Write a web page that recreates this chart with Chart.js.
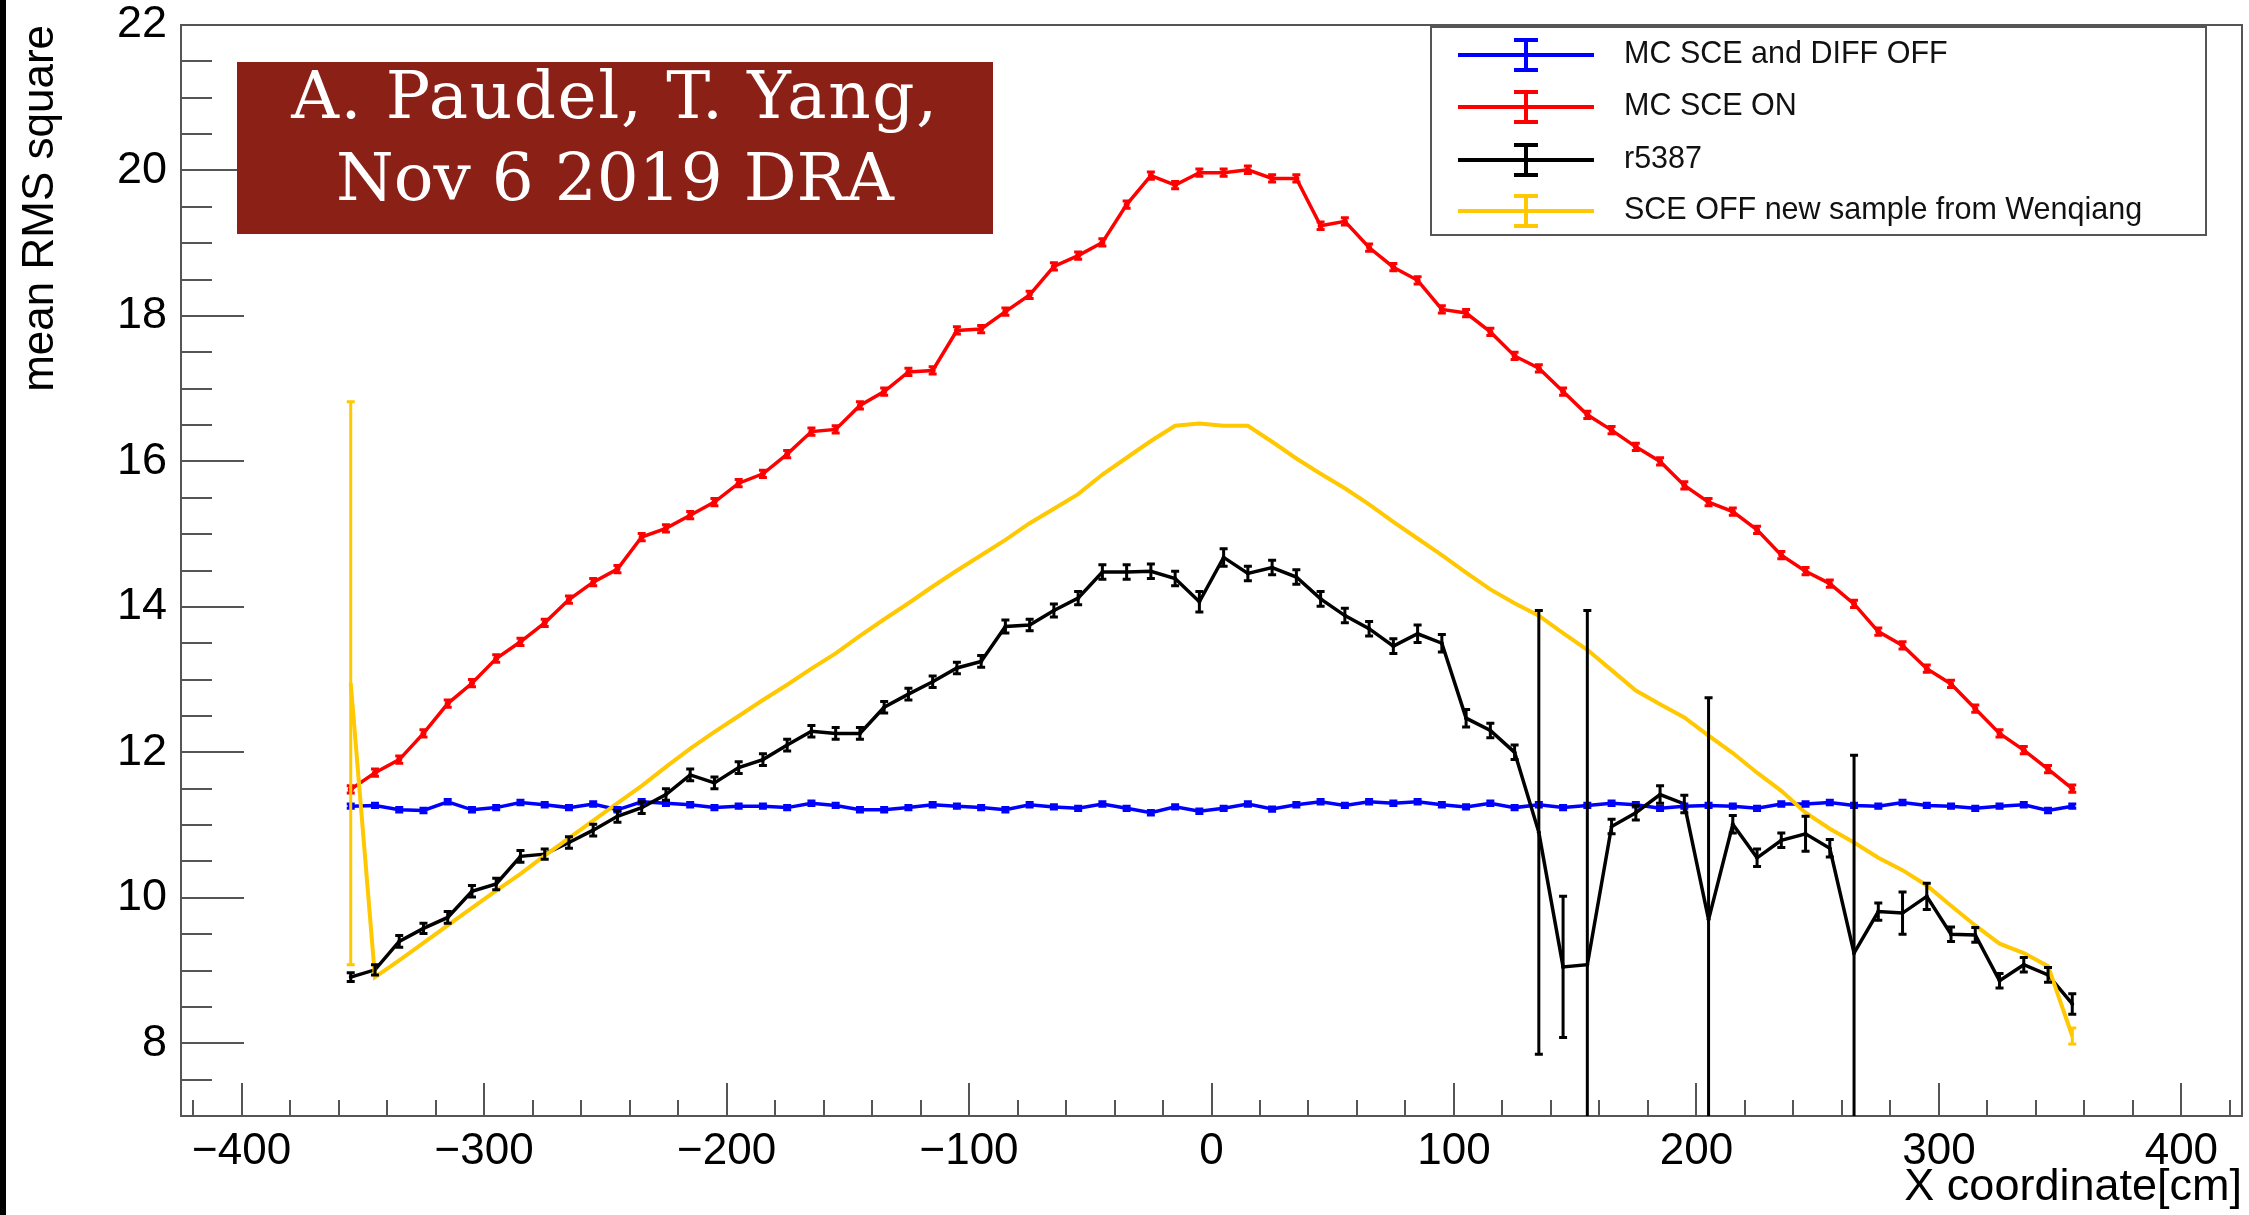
<!DOCTYPE html>
<html>
<head>
<meta charset="utf-8">
<script src="https://cdn.jsdelivr.net/npm/chart.js@4.4.1/dist/chart.umd.min.js"></script>
<style>
  html, body { margin: 0; padding: 0; background: #fff; }
  #wrap { position: relative; width: 2249px; height: 1215px; overflow: hidden; }
  #edge { position: absolute; left: 0; top: 0; width: 6px; height: 1215px; background: #000; }
  #stamp {
    position: absolute; left: 237px; top: 62px; width: 756px; height: 172px;
    background: #8a2016; color: #fff; text-align: center;
    font-family: "DejaVu Serif", serif; font-size: 66px; line-height: 82px;
  }
  #stamp div { position: relative; top: -7px; }
  #stamp span { letter-spacing: 1.6px; }
</style>
</head>
<body>
<div id="wrap">
  <canvas id="rmsChart" width="2249" height="1215"></canvas>
  <div id="edge"></div>
  <div id="stamp"><div><span>A. Paudel, T. Yang,</span><br>Nov 6 2019 DRA</div></div>
</div>
<script>
const binCenters = [-355, -345, -335, -325, -315, -305, -295, -285, -275, -265,
  -255, -245, -235, -225, -215, -205, -195, -185, -175, -165,
  -155, -145, -135, -125, -115, -105, -95, -85, -75, -65,
  -55, -45, -35, -25, -15, -5, 5, 15, 25, 35,
  45, 55, 65, 75, 85, 95, 105, 115, 125, 135,
  145, 155, 165, 175, 185, 195, 205, 215, 225, 235,
  245, 255, 265, 275, 285, 295, 305, 315, 325, 335,
  345, 355];

const sceDiffOff = [11.26, 11.27, 11.21, 11.20, 11.32, 11.21, 11.24, 11.31, 11.28, 11.24,
  11.29, 11.21, 11.32, 11.30, 11.28, 11.24, 11.26, 11.26, 11.24, 11.30,
  11.27, 11.21, 11.21, 11.24, 11.28, 11.26, 11.24, 11.21, 11.28, 11.25,
  11.23, 11.29, 11.23, 11.17, 11.25, 11.19, 11.23, 11.29, 11.22, 11.28,
  11.32, 11.27, 11.32, 11.30, 11.32, 11.28, 11.25, 11.30, 11.24, 11.28,
  11.24, 11.27, 11.30, 11.28, 11.23, 11.26, 11.27, 11.26, 11.23, 11.29,
  11.29, 11.31, 11.27, 11.26, 11.31, 11.27, 11.26, 11.23, 11.26, 11.28,
  11.20, 11.26];
const sceDiffOffErr = [0.03, 0.03, 0.03, 0.03, 0.03, 0.03, 0.03, 0.03, 0.03, 0.03,
  0.03, 0.03, 0.03, 0.03, 0.03, 0.03, 0.03, 0.03, 0.03, 0.03,
  0.03, 0.03, 0.03, 0.03, 0.03, 0.03, 0.03, 0.03, 0.03, 0.03,
  0.03, 0.03, 0.03, 0.03, 0.03, 0.03, 0.03, 0.03, 0.03, 0.03,
  0.03, 0.03, 0.03, 0.03, 0.03, 0.03, 0.03, 0.03, 0.03, 0.03,
  0.03, 0.03, 0.03, 0.03, 0.03, 0.03, 0.03, 0.03, 0.03, 0.03,
  0.03, 0.03, 0.03, 0.03, 0.03, 0.03, 0.03, 0.03, 0.03, 0.03,
  0.03, 0.03];

const sceOn = [11.49, 11.72, 11.90, 12.26, 12.67, 12.95, 13.29, 13.52, 13.78, 14.10,
  14.34, 14.52, 14.96, 15.08, 15.26, 15.44, 15.70, 15.83, 16.10, 16.41,
  16.44, 16.77, 16.96, 17.23, 17.25, 17.80, 17.82, 18.06, 18.29, 18.68,
  18.83, 19.01, 19.53, 19.93, 19.80, 19.97, 19.97, 20.01, 19.89, 19.89,
  19.24, 19.30, 18.94, 18.67, 18.49, 18.09, 18.04, 17.78, 17.45, 17.28,
  16.96, 16.64, 16.43, 16.20, 16.00, 15.67, 15.44, 15.31, 15.06, 14.71,
  14.49, 14.32, 14.04, 13.66, 13.47, 13.15, 12.94, 12.60, 12.26, 12.03,
  11.77, 11.50];
const sceOnErr = [0.05, 0.05, 0.05, 0.05, 0.05, 0.05, 0.05, 0.05, 0.05, 0.05,
  0.05, 0.05, 0.05, 0.05, 0.05, 0.05, 0.05, 0.05, 0.05, 0.05,
  0.05, 0.05, 0.05, 0.05, 0.05, 0.05, 0.05, 0.05, 0.05, 0.05,
  0.05, 0.05, 0.05, 0.05, 0.05, 0.05, 0.05, 0.05, 0.05, 0.05,
  0.05, 0.05, 0.05, 0.05, 0.05, 0.05, 0.05, 0.05, 0.05, 0.05,
  0.05, 0.05, 0.05, 0.05, 0.05, 0.05, 0.05, 0.05, 0.05, 0.05,
  0.05, 0.05, 0.05, 0.05, 0.05, 0.05, 0.05, 0.05, 0.05, 0.05,
  0.05, 0.05];

const run5387 = [8.91, 9.01, 9.40, 9.58, 9.73, 10.09, 10.19, 10.57, 10.60, 10.76,
  10.93, 11.12, 11.24, 11.42, 11.69, 11.58, 11.79, 11.90, 12.10, 12.29,
  12.26, 12.26, 12.62, 12.80, 12.97, 13.16, 13.25, 13.73, 13.75, 13.95,
  14.12, 14.48, 14.48, 14.49, 14.39, 14.07, 14.68, 14.46, 14.54, 14.41,
  14.11, 13.88, 13.70, 13.46, 13.63, 13.50, 12.47, 12.30, 12.00, 10.90,
  9.05, 9.08, 10.98, 11.17, 11.42, 11.29, 9.70, 11.01, 10.55, 10.79,
  10.88, 10.68, 9.24, 9.81, 9.79, 10.02, 9.50, 9.49, 8.86, 9.08,
  8.94, 8.54];
const run5387Err = [0.06, 0.07, 0.08, 0.07, 0.08, 0.08, 0.08, 0.08, 0.07, 0.08,
  0.08, 0.08, 0.08, 0.08, 0.08, 0.08, 0.08, 0.08, 0.08, 0.08,
  0.08, 0.08, 0.08, 0.08, 0.08, 0.08, 0.08, 0.09, 0.08, 0.09,
  0.09, 0.10, 0.10, 0.10, 0.10, 0.14, 0.12, 0.10, 0.10, 0.10,
  0.10, 0.10, 0.10, 0.10, 0.12, 0.12, 0.12, 0.10, 0.10, 3.05,
  0.97, 4.87, 0.10, 0.10, 0.12, 0.12, 3.05, 0.12, 0.12, 0.10,
  0.24, 0.12, 2.72, 0.12, 0.29, 0.18, 0.10, 0.10, 0.10, 0.10,
  0.10, 0.14];

const sceOffNew = [12.95, 8.91, 9.14, 9.38, 9.62, 9.86, 10.10, 10.33, 10.58, 10.82,
  11.06, 11.30, 11.54, 11.80, 12.05, 12.28, 12.50, 12.72, 12.93, 13.15,
  13.36, 13.60, 13.83, 14.05, 14.28, 14.50, 14.71, 14.92, 15.15, 15.35,
  15.55, 15.82, 16.05, 16.28, 16.49, 16.52, 16.49, 16.49, 16.27, 16.04,
  15.83, 15.63, 15.41, 15.17, 14.94, 14.71, 14.47, 14.24, 14.05, 13.88,
  13.64, 13.41, 13.13, 12.85, 12.66, 12.48, 12.23, 11.99, 11.72, 11.47,
  11.17, 10.95, 10.76, 10.55, 10.38, 10.17, 9.89, 9.62, 9.37, 9.24,
  9.06, 8.10];
const sceOffNewErr = [3.87, 0, 0, 0, 0, 0, 0, 0, 0, 0,
  0, 0, 0, 0, 0, 0, 0, 0, 0, 0,
  0, 0, 0, 0, 0, 0, 0, 0, 0, 0,
  0, 0, 0, 0, 0, 0, 0, 0, 0, 0,
  0, 0, 0, 0, 0, 0, 0, 0, 0, 0,
  0, 0, 0, 0, 0, 0, 0, 0, 0, 0,
  0, 0, 0, 0, 0, 0, 0, 0, 0, 0,
  0, 0.11];

const seriesLabels = ["MC SCE and DIFF OFF", "MC SCE ON", "r5387", "SCE OFF new sample from Wenqiang"];
const seriesColors = ["#0000ff", "#ff0000", "#000000", "#ffc800"];
const xTickValues = [-400, -300, -200, -100, 0, 100, 200, 300, 400];
const yTickValues = [8, 10, 12, 14, 16, 18, 20, 22];

const sans = "'Liberation Sans', Arial, Helvetica, sans-serif";

const points = (vals) => vals.map((v, i) => ({ x: binCenters[i], y: v }));

// ROOT style frame: box around the pad and tick marks pointing inward
const rootFrame = {
  id: "rootFrame",
  beforeDatasetsDraw(chart) {
    const { ctx, chartArea: a, scales: { x, y } } = chart;
    ctx.save();
    ctx.strokeStyle = "#555";
    ctx.lineWidth = 2;
    ctx.beginPath();
    for (let v = -420; v <= 420; v += 20) {
      const px = Math.round(x.getPixelForValue(v));
      const len = v % 100 === 0 ? 33 : 16;
      ctx.moveTo(px, a.bottom);
      ctx.lineTo(px, a.bottom - len);
    }
    for (let v = 7.5; v < 22; v += 0.5) {
      const py = Math.round(y.getPixelForValue(v));
      const len = v % 2 === 0 ? 63 : 31;
      ctx.moveTo(a.left, py);
      ctx.lineTo(a.left + len, py);
    }
    ctx.stroke();
    ctx.strokeRect(a.left, a.top, a.right - a.left, a.bottom - a.top);
    ctx.restore();
  },
};

const errorBars = {
  id: "errorBars",
  afterDatasetsDraw(chart) {
    const { ctx, chartArea: a, scales: { x, y } } = chart;
    ctx.save();
    ctx.beginPath();
    ctx.rect(a.left, a.top, a.right - a.left, a.bottom - a.top);
    ctx.clip();
    chart.data.datasets.forEach((ds) => {
      ctx.strokeStyle = ds.borderColor;
      ctx.lineWidth = 3;
      ds.errors.forEach((e, i) => {
        if (!e) return;
        const p = ds.data[i];
        const px = x.getPixelForValue(p.x);
        const top = y.getPixelForValue(p.y + e);
        const bot = y.getPixelForValue(p.y - e);
        ctx.beginPath();
        ctx.moveTo(px, top); ctx.lineTo(px, bot);
        ctx.moveTo(px - 4, top); ctx.lineTo(px + 4, top);
        ctx.moveTo(px - 4, bot); ctx.lineTo(px + 4, bot);
        ctx.stroke();
      });
    });
    ctx.restore();
  },
};

const rootLegend = {
  id: "rootLegend",
  afterDraw(chart) {
    const { ctx } = chart;
    const box = { left: 1431, top: 27, right: 2206, bottom: 235 };
    const rows = [55, 107, 160, 211];
    ctx.save();
    ctx.fillStyle = "#fff";
    ctx.fillRect(box.left, box.top, box.right - box.left, box.bottom - box.top);
    ctx.strokeStyle = "#555";
    ctx.lineWidth = 2;
    ctx.strokeRect(box.left, box.top, box.right - box.left, box.bottom - box.top);
    ctx.font = "30.5px " + sans;
    ctx.textBaseline = "middle";
    seriesLabels.forEach((label, i) => {
      const ry = rows[i];
      ctx.strokeStyle = seriesColors[i];
      ctx.lineWidth = 4;
      ctx.beginPath();
      ctx.moveTo(1458, ry); ctx.lineTo(1594, ry);
      ctx.moveTo(1526, ry - 15); ctx.lineTo(1526, ry + 15);
      ctx.moveTo(1514, ry - 15); ctx.lineTo(1538, ry - 15);
      ctx.moveTo(1514, ry + 15); ctx.lineTo(1538, ry + 15);
      ctx.stroke();
      ctx.fillStyle = "#111";
      ctx.fillText(label, 1624, ry);
    });
    ctx.restore();
  },
};

const series = [
  { vals: sceDiffOff, errs: sceDiffOffErr, radius: 3, width: 3.5, order: 3 },
  { vals: sceOn, errs: sceOnErr, radius: 3, width: 3.5, order: 2 },
  { vals: run5387, errs: run5387Err, radius: 2, width: 3.5, order: 1 },
  { vals: sceOffNew, errs: sceOffNewErr, radius: 0, width: 4, order: 0 },
];

new Chart(document.getElementById("rmsChart"), {
  type: "line",
  data: {
    datasets: series.map((s, i) => ({
      label: seriesLabels[i],
      data: points(s.vals),
      errors: s.errs,
      borderColor: seriesColors[i],
      backgroundColor: seriesColors[i],
      borderWidth: s.width,
      pointRadius: s.radius,
      pointBorderWidth: 0,
      tension: 0,
      order: s.order,
    })),
  },
  options: {
    responsive: false,
    animation: false,
    layout: { padding: { left: 0, top: 25, right: 7, bottom: 0 } },
    plugins: { legend: { display: false }, tooltip: { enabled: false } },
    scales: {
      x: {
        type: "linear",
        min: -425,
        max: 425,
        grid: { display: false, drawTicks: false },
        border: { display: false },
        afterBuildTicks: (scale) => { scale.ticks = xTickValues.map((v) => ({ value: v })); },
        afterFit: (scale) => { scale.height = 99; scale.paddingLeft = 0; scale.paddingRight = 0; },
        ticks: {
          padding: 9,
          color: "#000",
          font: { family: sans, size: 44 },
          maxRotation: 0,
          callback: (v) => String(v).replace("-", "\u2212"),
        },
        title: {
          display: true,
          text: "X coordinate[cm]",
          align: "end",
          color: "#000",
          font: { family: sans, size: 45 },
          padding: { top: 0, bottom: 0 },
        },
      },
      y: {
        min: 7,
        max: 22,
        grid: { display: false, drawTicks: false },
        border: { display: false },
        afterBuildTicks: (scale) => { scale.ticks = yTickValues.map((v) => ({ value: v })); },
        afterFit: (scale) => { scale.width = 181; scale.paddingTop = 0; scale.paddingBottom = 0; },
        ticks: {
          padding: 14,
          color: "#000",
          font: { family: sans, size: 45 },
        },
        title: {
          display: true,
          text: "mean RMS square",
          align: "end",
          color: "#000",
          font: { family: sans, size: 44 },
          padding: { top: 14, bottom: 0 },
        },
      },
    },
  },
  plugins: [rootFrame, errorBars, rootLegend],
});
</script>
</body>
</html>
